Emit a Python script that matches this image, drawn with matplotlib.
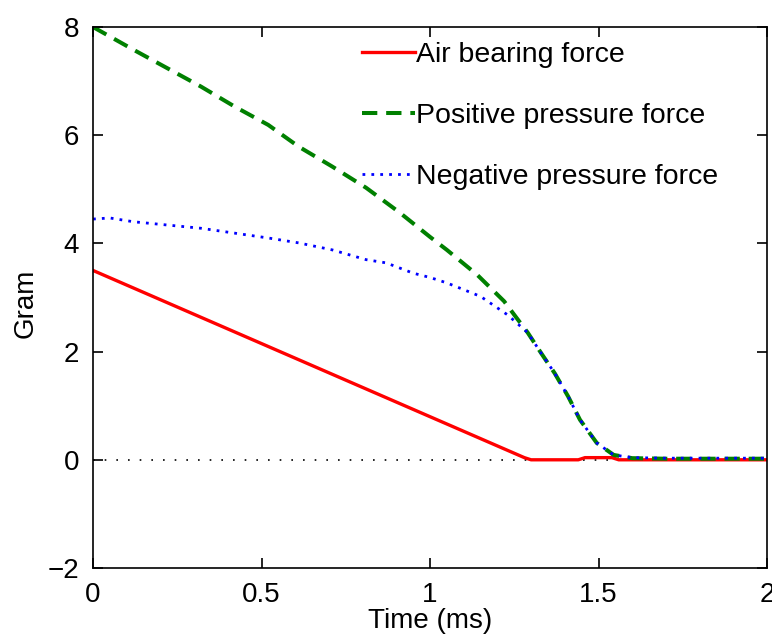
import matplotlib
matplotlib.use("Agg")
import matplotlib.pyplot as plt

plt.rcParams["font.family"] = ["Liberation Sans", "DejaVu Sans"]

# Air bearing force (red, solid)
t_air = [0.0, 1.28, 1.30, 1.44, 1.46, 1.54, 1.56, 2.0]
air = [3.5, 0.04, 0.0, 0.0, 0.04, 0.04, 0.0, 0.0]

# Positive pressure force (green, dashed)
t_pos = [0.0, 0.12, 0.22, 0.32, 0.42, 0.52, 0.61, 0.71, 0.81, 0.91, 1.0, 1.05,
         1.14, 1.22, 1.25, 1.29, 1.33, 1.37, 1.41, 1.445, 1.495, 1.545, 1.60, 1.7, 2.0]
pos = [8.0, 7.58, 7.24, 6.90, 6.53, 6.19, 5.79, 5.42, 5.03, 4.57, 4.12, 3.88,
       3.42, 2.93, 2.68, 2.35, 1.97, 1.60, 1.17, 0.74, 0.31, 0.09, 0.03, 0.02, 0.02]

# Negative pressure force (blue, dotted)
t_neg = [0.0, 0.05, 0.12, 0.22, 0.32, 0.42, 0.52, 0.61, 0.71, 0.81, 0.87, 0.95,
         1.0, 1.05, 1.15, 1.23, 1.29, 1.33, 1.37, 1.41, 1.445, 1.495, 1.545, 1.60, 1.7, 2.0]
neg = [4.45, 4.47, 4.40, 4.34, 4.28, 4.19, 4.10, 4.01, 3.88, 3.70, 3.64, 3.45,
       3.37, 3.27, 3.02, 2.68, 2.35, 1.97, 1.60, 1.17, 0.74, 0.31, 0.09, 0.04, 0.03, 0.03]

x_ticks = [0, 0.5, 1, 1.5, 2]
x_ticklabels = ["0", "0.5", "1", "1.5", "2"]
y_ticks = [-2, 0, 2, 4, 6, 8]
y_ticklabels = ["\u22122", "0", "2", "4", "6", "8"]

fig = plt.figure(figsize=(7.72, 6.35), dpi=100)
ax = fig.add_axes([93 / 772, 1 - 568 / 635, 674 / 772, 541 / 635])

ax.plot([0, 2], [0, 0], color="black", lw=1.2, linestyle=(0, (1, 6)))
ax.plot(t_air, air, color="#ff0000", lw=2.4, label="Air bearing force")
ax.plot(t_pos, pos, color="#008000", lw=2.9, linestyle=(0, (3.8, 2.2)),
        label="Positive pressure force")
ax.plot(t_neg, neg, color="#0000ff", lw=2.0, linestyle=(0, (1, 2.2)),
        label="Negative pressure force")

ax.set_xlim(0, 2)
ax.set_ylim(-2, 8)
ax.set_xticks(x_ticks)
ax.set_xticklabels(x_ticklabels)
ax.set_yticks(y_ticks)
ax.set_yticklabels(y_ticklabels)
ax.tick_params(direction="in", length=7, width=1.2, top=True, right=True,
               labelsize=20, pad=10)
for s in ax.spines.values():
    s.set_linewidth(1.2)

ax.set_xlabel("Time (ms)", fontsize=20, labelpad=0)
ax.set_ylabel("Gram", fontsize=20)
ax.yaxis.set_label_coords(-0.08, 0.49)

ax.legend(loc="upper left", bbox_to_anchor=(362 / 772, 1 - 42 / 635),
          bbox_transform=fig.transFigure, frameon=False, fontsize=20.5,
          handlelength=1.85, handletextpad=0.05, labelspacing=1.23,
          borderpad=0, borderaxespad=0)

fig.savefig("out.png", dpi=100)
